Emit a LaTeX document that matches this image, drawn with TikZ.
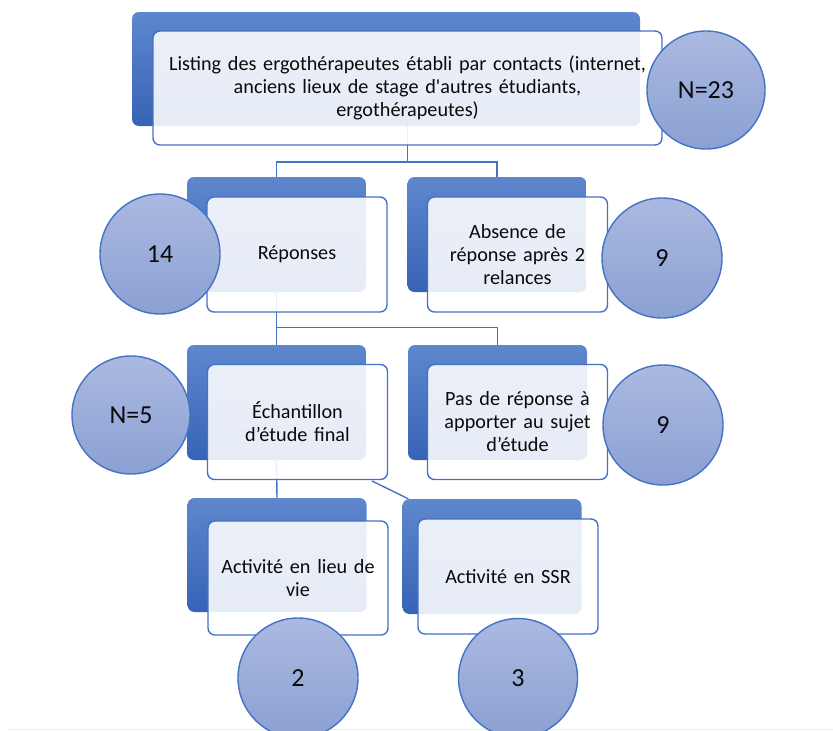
\documentclass[tikz, border = 0pt]{standalone}
\usepackage{fontspec}
\setmainfont{Carlito}[Ligatures = TeXOff]
\usetikzlibrary{
    calc
}
\definecolor{edgeblue}{RGB}{68, 114, 196}
\definecolor{backtop}{RGB}{94, 135, 205}
\definecolor{backbottom}{RGB}{55, 99, 183}
\definecolor{counttop}{RGB}{170, 185, 224}
\definecolor{countbottom}{RGB}{139, 161, 211}
\definecolor{inkblack}{RGB}{10, 10, 10}
\tikzset {
    back box/.style = {
        rectangle, rounded corners = 7pt, inner sep = 0pt,
        minimum width = 179pt, minimum height = 115pt,
        top color = backtop, bottom color = backbottom
    },
    front box/.style = {
        rectangle, rounded corners = 7pt, inner sep = 5pt,
        text width = 170pt, minimum height = 115pt, align = center,
        draw = edgeblue, line width = 1.4pt,
        fill = white, fill opacity = 0.88, text opacity = 1,
        text = inkblack, font = \fontsize{20.2}{23}\selectfont
    },
    count/.style = {
        circle, minimum size = 120pt, inner sep = 0pt,
        draw = edgeblue, line width = 1.4pt,
        top color = counttop, bottom color = countbottom,
        text = inkblack, font = \fontsize{26}{30}\selectfont
    },
    link/.style = {draw = edgeblue, line width = 1.4pt}
}

\begin{document}
\begin{tikzpicture}[x = 1pt, y = -1pt]
    \useasboundingbox (0, 0) rectangle (833, 731);
    \draw [black!7, line width = 1pt] (8, 729) -- (833, 729);
    % back boxes
    \node (listing back) [back box, minimum width = 508pt, minimum height = 114pt] at (386, 69) {};
    \node (reponses back) [back box] at (276.5, 234.5) {};
    \node (absence back) [back box] at (497, 234.5) {};
    \node (echantillon back) [back box] at (276.5, 402.5) {};
    \node (sujet back) [back box] at (497.5, 402.5) {};
    \node (vie back) [back box, minimum height = 114pt] at (277, 555) {};
    \node (ssr back) [back box] at (492, 556.5) {};
    % links
    \draw [link] (407.5, 126) -- (407.5, 162) -| (reponses back.north);
    \draw [link] (407.5, 162) -| (absence back.north);
    \draw [link] (reponses back.south) -- ++(0, 35) -| (sujet back.north);
    \draw [link] (reponses back.south) -- (echantillon back.north);
    \draw [link] (echantillon back.south) -- (vie back.north);
    \draw [link] (372, 481) -- ([xshift = 6pt] ssr back.north west);
    % front boxes
    \node (listing) [front box, text width = 499pt, minimum height = 114pt] at (407.5, 88)
        {Listing des ergothérapeutes établi par contacts (internet,\\
        anciens lieux de stage d'autres étudiants,\\ ergothérapeutes)};
    \node (reponses) [front box] at (297, 254.5) {Réponses};
    \node (absence) [front box] at (517.5, 254.5) {Absence de\\ réponse après 2\\ relances};
    \node (echantillon) [front box] at (297.5, 422) {Échantillon\\ d’étude final};
    \node (sujet) [front box] at (517.5, 422) {Pas de réponse à\\ apporter au sujet\\ d’étude};
    \node (vie) [front box, minimum height = 114pt] at (298, 578) {Activité en lieu de\\ vie};
    \node (ssr) [front box] at (508, 576.5) {Activité en SSR};
    % counts
    \node (n listing) [count, minimum size = 118pt] at (706, 90) {N=23};
    \node (n reponses) [count] at (160, 254) {14};
    \node (n absence) [count] at (662, 258) {9};
    \node (n echantillon) [count, minimum size = 118pt] at (131, 415) {N=5};
    \node (n sujet) [count] at (663, 425) {9};
    \node (n vie) [count] at (298, 678) {2};
    \node (n ssr) [count, minimum size = 119pt] at (518, 678) {3};
\end{tikzpicture}
\end{document}
